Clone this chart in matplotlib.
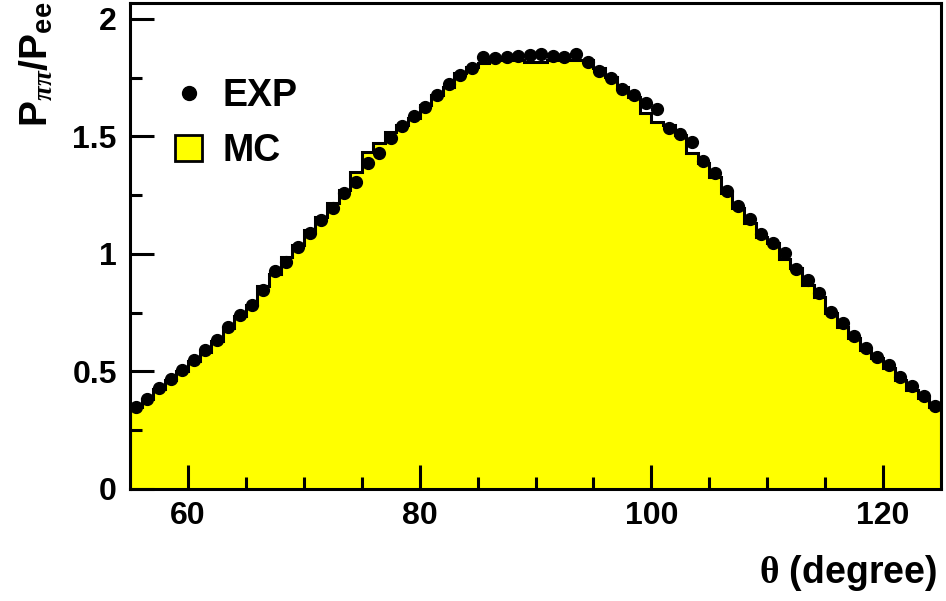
import numpy as np
import matplotlib
matplotlib.use("Agg")
import matplotlib.pyplot as plt
from matplotlib.lines import Line2D
from matplotlib.patches import Patch

plt.rcParams['font.family'] = ['Liberation Sans', 'DejaVu Sans']
plt.rcParams['font.weight'] = 'bold'
plt.rcParams['mathtext.fontset'] = 'custom'
plt.rcParams['mathtext.rm'] = 'Liberation Sans:bold'
plt.rcParams['mathtext.bf'] = 'Liberation Sans:bold'
plt.rcParams['mathtext.it'] = 'Liberation Serif:italic'
plt.rcParams['mathtext.sf'] = 'Liberation Serif'

# theta bins (degree), 1-degree wide from 55 to 125
theta_lo = 55
theta_hi = 125

exp_vals = [0.350, 0.385, 0.430, 0.470, 0.505, 0.550, 0.590, 0.635, 0.690, 0.740,
            0.785, 0.845, 0.929, 0.967, 1.031, 1.088, 1.145, 1.194, 1.261, 1.308,
            1.386, 1.428, 1.492, 1.545, 1.587, 1.627, 1.677, 1.722, 1.762, 1.790,
            1.840, 1.833, 1.838, 1.842, 1.848, 1.853, 1.844, 1.840, 1.851, 1.817,
            1.779, 1.748, 1.703, 1.675, 1.643, 1.617, 1.535, 1.510, 1.478, 1.397,
            1.343, 1.270, 1.204, 1.148, 1.085, 1.048, 1.003, 0.935, 0.889, 0.833,
            0.755, 0.708, 0.651, 0.601, 0.560, 0.528, 0.478, 0.438, 0.396, 0.354]

mc_vals = [0.350, 0.385, 0.425, 0.465, 0.500, 0.545, 0.585, 0.630, 0.685, 0.735,
           0.785, 0.865, 0.915, 0.989, 1.038, 1.100, 1.159, 1.216, 1.272, 1.350,
           1.435, 1.471, 1.520, 1.549, 1.577, 1.634, 1.677, 1.710, 1.770, 1.797,
           1.814, 1.826, 1.826, 1.826, 1.815, 1.815, 1.826, 1.826, 1.826, 1.826,
           1.790, 1.755, 1.710, 1.670, 1.600, 1.563, 1.549, 1.506, 1.428, 1.386,
           1.329, 1.258, 1.194, 1.130, 1.074, 1.045, 0.980, 0.940, 0.868, 0.818,
           0.748, 0.690, 0.641, 0.590, 0.556, 0.514, 0.464, 0.421, 0.386, 0.350]

x_ticks = [60, 80, 100, 120]
y_ticks = [0, 0.5, 1, 1.5, 2]
y_tick_labels = ['0', '0.5', '1', '1.5', '2']

edges = np.arange(theta_lo, theta_hi + 1, 1)
centers = (edges[:-1] + edges[1:]) / 2

fig = plt.figure(figsize=(9.46, 6.01), dpi=100)
ax = fig.add_axes([130 / 946, 112 / 601, 811 / 946, 486 / 601])

ax.stairs(mc_vals, edges, fill=True, color='#ffff00', lw=0)
ax.stairs(mc_vals, edges, color='black', lw=2.2)
ax.plot(centers, exp_vals, 'o', color='black', ms=8.5, zorder=5)

ax.set_xlim(theta_lo, theta_hi)
ax.set_ylim(0, 2.068)

ax.set_xticks(x_ticks)
ax.set_xticks(np.arange(65, 125, 5), minor=True)
ax.set_yticks(y_ticks)
ax.set_yticklabels(y_tick_labels)
ax.set_yticks(np.arange(0.25, 2.0, 0.5), minor=True)
ax.tick_params(which='major', direction='in', length=17, width=2.2,
               labelsize=23, top=False, right=False)
ax.tick_params(which='minor', direction='in', length=8.5, width=2.2,
               top=False, right=False)
ax.tick_params(axis='y', which='major', pad=9.5)
ax.tick_params(axis='x', which='major', pad=9)
for lab in ax.get_xticklabels() + ax.get_yticklabels():
    lab.set_fontweight('bold')
for s in ax.spines.values():
    s.set_linewidth(2.2)

handles = [Line2D([], [], marker='o', ls='none', color='black', ms=10),
           Patch(facecolor='#ffff00', edgecolor='black', lw=2)]
leg = ax.legend(handles, ['EXP', 'MC'], loc='upper left',
                bbox_to_anchor=(0.056, 0.845), frameon=False,
                prop={'size': 27, 'weight': 'bold'},
                handlelength=0.7, handleheight=0.7, handletextpad=0.55,
                labelspacing=0.5, borderpad=0, borderaxespad=0)

fig.text(937 / 946, 8 / 601, r'$\mathsf{\theta}$ (degree)', ha='right', va='bottom',
         fontsize=27, fontweight='bold')
fig.text(36 / 946, 0.998, r'P$_{\pi\pi}$/P$_{\mathbf{ee}}$', rotation=90,
         ha='center', va='top', fontsize=28, fontweight='bold')

fig.savefig('out.png', dpi=100)
